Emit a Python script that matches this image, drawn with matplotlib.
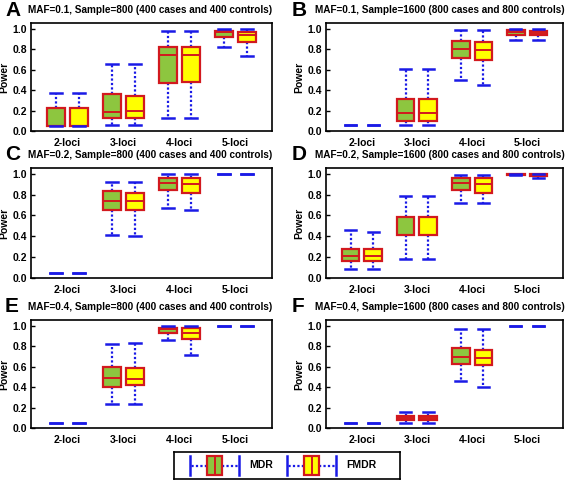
import matplotlib
matplotlib.use("Agg")
import matplotlib.pyplot as plt
import numpy as np

plt.rcParams["font.family"] = ["Liberation Sans", "DejaVu Sans"]
plt.rcParams["font.weight"] = "bold"

groups = ["2-loci", "3-loci", "4-loci", "5-loci"]
panel_letters = ["A", "B", "C", "D", "E", "F"]
panel_titles = [
    "MAF=0.1, Sample=800 (400 cases and 400 controls)",
    "MAF=0.1, Sample=1600 (800 cases and 800 controls)",
    "MAF=0.2, Sample=800 (400 cases and 400 controls)",
    "MAF=0.2, Sample=1600 (800 cases and 800 controls)",
    "MAF=0.4, Sample=800 (400 cases and 400 controls)",
    "MAF=0.4, Sample=1600 (800 cases and 800 controls)",
]

# each row: whisker low, q1, median, q3, whisker high
A_mdr = [[0.05, 0.05, 0.05, 0.22, 0.37], [0.055, 0.125, 0.19, 0.36, 0.65],
         [0.125, 0.47, 0.745, 0.82, 0.975], [0.825, 0.915, 0.965, 0.98, 1.0]]
A_fmdr = [[0.05, 0.05, 0.05, 0.22, 0.37], [0.055, 0.13, 0.20, 0.34, 0.65],
          [0.125, 0.48, 0.745, 0.82, 0.975], [0.73, 0.87, 0.94, 0.97, 1.0]]
B_mdr = [[0.055, 0.055, 0.055, 0.055, 0.055], [0.055, 0.10, 0.175, 0.31, 0.61],
         [0.50, 0.71, 0.80, 0.875, 0.985], [0.89, 0.94, 0.97, 0.985, 0.995]]
B_fmdr = [[0.055, 0.055, 0.055, 0.055, 0.055], [0.055, 0.10, 0.175, 0.31, 0.61],
          [0.45, 0.695, 0.79, 0.87, 0.985], [0.89, 0.94, 0.96, 0.98, 0.995]]
C_mdr = [[0.05, 0.05, 0.05, 0.05, 0.05], [0.415, 0.655, 0.74, 0.83, 0.92],
         [0.675, 0.84, 0.915, 0.96, 0.995], [1.0, 1.0, 1.0, 1.0, 1.0]]
C_fmdr = [[0.05, 0.05, 0.05, 0.05, 0.05], [0.405, 0.65, 0.74, 0.82, 0.92],
          [0.655, 0.82, 0.905, 0.955, 0.995], [0.995, 0.995, 0.995, 0.995, 0.995]]
D_mdr = [[0.085, 0.165, 0.215, 0.28, 0.46], [0.18, 0.415, 0.585, 0.585, 0.79],
         [0.715, 0.84, 0.915, 0.955, 0.99], [0.99, 0.99, 0.995, 1.0, 1.0]]
D_fmdr = [[0.085, 0.163, 0.21, 0.277, 0.445], [0.18, 0.41, 0.585, 0.585, 0.79],
          [0.715, 0.82, 0.905, 0.955, 0.99], [0.96, 0.975, 0.985, 0.995, 1.0]]
E_mdr = [[0.052, 0.052, 0.052, 0.052, 0.052], [0.23, 0.405, 0.485, 0.60, 0.82],
         [0.855, 0.93, 0.965, 0.98, 0.995], [1.0, 1.0, 1.0, 1.0, 1.0]]
E_fmdr = [[0.052, 0.052, 0.052, 0.052, 0.052], [0.235, 0.42, 0.477, 0.59, 0.835],
          [0.71, 0.865, 0.93, 0.975, 0.995], [1.0, 1.0, 1.0, 1.0, 1.0]]
F_mdr = [[0.05, 0.05, 0.05, 0.05, 0.05], [0.05, 0.08, 0.10, 0.115, 0.155],
         [0.455, 0.63, 0.695, 0.78, 0.965], [1.0, 1.0, 1.0, 1.0, 1.0]]
F_fmdr = [[0.05, 0.05, 0.05, 0.05, 0.05], [0.05, 0.08, 0.10, 0.115, 0.155],
          [0.40, 0.615, 0.68, 0.765, 0.965], [1.0, 1.0, 1.0, 1.0, 1.0]]

panels = [(A_mdr, A_fmdr), (B_mdr, B_fmdr), (C_mdr, C_fmdr),
          (D_mdr, D_fmdr), (E_mdr, E_fmdr), (F_mdr, F_fmdr)]

green = "#8dc63f"
yellow = "#ffff00"
red = "#d2191e"
blue = "#1a1ae6"

W, H = 567, 482
fig = plt.figure(figsize=(W / 100, H / 100), dpi=100)

# axes boxes in pixels: left, right, top, bottom
cols = [(31, 272), (326, 563)]
rows = [(23, 131), (168, 278), (320, 428)]
# pixel offsets of the panel letter and title from the axes' left edge
letter_dx = [-26, -34]
title_dx = [-3, -11]


def to_stats(rows_):
    out = []
    for lo, q1, med, q3, hi in rows_:
        out.append(dict(whislo=lo, q1=q1, med=med, q3=q3, whishi=hi, fliers=[]))
    return out


def draw_boxes(ax, stats, positions, color, horizontal=False, widths=0.32, capw=0.2):
    kw = dict(orientation="horizontal") if horizontal else {}
    res = ax.bxp(stats, positions=positions, widths=widths, capwidths=capw,
                 patch_artist=True, showfliers=False,
                 boxprops=dict(facecolor=color, edgecolor=red, linewidth=1.6, zorder=3),
                 medianprops=dict(color=red, linewidth=1.4, zorder=3.5),
                 whiskerprops=dict(color=blue, linestyle=(0, (1, 1)), linewidth=1.6, zorder=2),
                 capprops=dict(color=blue, linewidth=1.8, zorder=4),
                 manage_ticks=False, **kw)
    for s, box, m in zip(stats, res["boxes"], res["medians"]):
        if s["q3"] - s["q1"] < 1e-9:
            box.set_visible(False)
            m.set_visible(False)
    return res


x = np.arange(1, len(groups) + 1)
for k, (mdr, fmdr) in enumerate(panels):
    r, c = divmod(k, 2)
    l, rr = cols[c]
    t, b = rows[r]
    ax = fig.add_axes([l / W, 1 - b / H, (rr - l) / W, (b - t) / H])
    draw_boxes(ax, to_stats(mdr), x - 0.205, green)
    draw_boxes(ax, to_stats(fmdr), x + 0.205, yellow)
    ax.set_xlim(0.35, 4.65)
    ax.set_ylim(0, 1.055)
    ax.set_yticks([0, 0.2, 0.4, 0.6, 0.8, 1.0])
    ax.set_yticklabels(["0.0", "0.2", "0.4", "0.6", "0.8", "1.0"], fontsize=7.5, fontweight="bold")
    ax.set_xticks(x)
    ax.set_xticklabels(groups, fontsize=7.5, fontweight="bold")
    ax.tick_params(axis="y", direction="in", length=3, width=1, pad=3)
    ax.tick_params(axis="x", length=0, pad=5)
    for sp in ax.spines.values():
        sp.set_linewidth(1.2)
    ax.set_ylabel("Power", fontsize=7.5, fontweight="bold", labelpad=2)
    fig.text((l + letter_dx[c]) / W, 1 - (t - 13) / H, panel_letters[k], fontsize=15,
             fontweight="bold", ha="left", va="center")
    fig.text((l + title_dx[c]) / W, 1 - (t - 13) / H, panel_titles[k], fontsize=7.2,
             fontweight="bold", ha="left", va="center")

# legend panel
lx0, lx1, ly0, ly1 = 174, 400, 452, 479
lax = fig.add_axes([lx0 / W, 1 - ly1 / H, (lx1 - lx0) / W, (ly1 - ly0) / H])
lax.set_xlim(lx0, lx1)
lax.set_ylim(0, 1)
lax.set_xticks([])
lax.set_yticks([])
for sp in lax.spines.values():
    sp.set_linewidth(1.2)
legend_names = ["MDR", "FMDR"]
legend_colors = [green, yellow]
legend_x = [190, 287]
for name, col, x0 in zip(legend_names, legend_colors, legend_x):
    st = [dict(whislo=x0, q1=x0 + 17, med=x0 + 24.5, q3=x0 + 32, whishi=x0 + 49, fliers=[])]
    draw_boxes(lax, st, [0.5], col, horizontal=True, widths=0.7, capw=0.7)
    lax.text(x0 + 59, 0.5, name, fontsize=7.5, fontweight="bold", ha="left", va="center")

fig.savefig("out.png", dpi=100)
